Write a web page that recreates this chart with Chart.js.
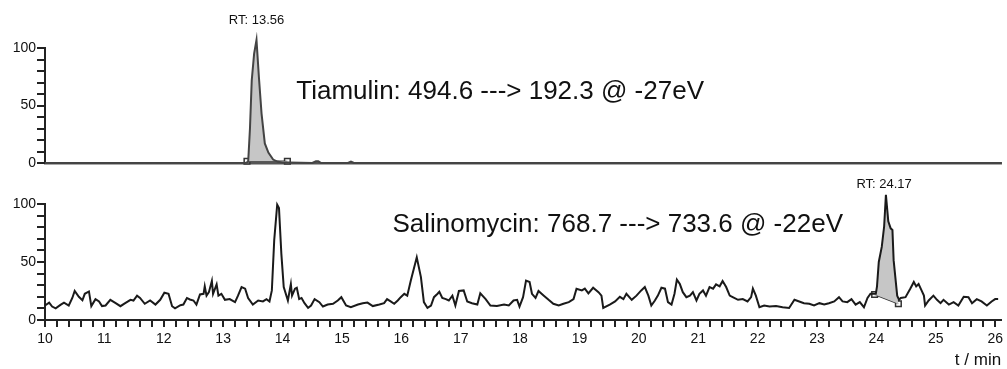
<!DOCTYPE html>
<html>
<head>
<meta charset="utf-8">
<script src="https://cdn.jsdelivr.net/npm/chart.js@4/dist/chart.umd.min.js"></script>
<style>
  body { margin: 0; background: #fff; }
  #topBox { position: absolute; left: 0; top: 0; width: 1007px; height: 175px; }
  #botBox { position: absolute; left: 0; top: 175px; width: 1007px; height: 194px; }
</style>
</head>
<body>
<div id="topBox"><canvas id="topChart"></canvas></div>
<div id="botBox"><canvas id="botChart"></canvas></div>
<script>
// Tiamulin trace (top panel), time in min, relative abundance in %
let tiaTime = [10, 13.38, 13.42, 13.45, 13.48, 13.52, 13.56, 13.60, 13.645, 13.70, 13.76, 13.84, 13.92, 14.0, 14.1,
               14.5, 14.56, 14.6, 14.65, 15.1, 15.15, 15.2, 26.1];
let tiaVals = [0, 0.3, 1, 30, 72, 95, 107, 75, 43, 17, 9, 3, 1, 0.5, 0.5,
               0, 1.5, 1.5, 0, 0, 1.2, 0, 0];
// integration start/end markers
let tiaMarkTime = [13.40, 14.08];
let tiaMarkVals = [1.5, 1.5];

// Salinomycin trace (bottom panel)
let salTime = [10.00, 10.07, 10.12, 10.18, 10.26, 10.32, 10.40, 10.46, 10.50, 10.57, 10.63, 10.67, 10.74, 10.78, 10.85,
  10.91, 10.96, 11.02, 11.10, 11.19, 11.27, 11.35, 11.44, 11.49, 11.55, 11.60, 11.68, 11.77, 11.86, 11.94,
  12.01, 12.08, 12.14, 12.19, 12.28, 12.33, 12.39, 12.44, 12.50, 12.55, 12.61, 12.67, 12.69, 12.72, 12.76,
  12.81, 12.83, 12.89, 12.92, 12.97, 13.03, 13.11, 13.20, 13.25, 13.31, 13.37, 13.42, 13.50, 13.59, 13.67,
  13.73, 13.78, 13.82, 13.86, 13.91, 13.94, 13.98, 14.02, 14.09, 14.14, 14.16, 14.21, 14.24, 14.28, 14.32,
  14.37, 14.43, 14.48, 14.54, 14.62, 14.68, 14.76, 14.85, 14.93, 14.99, 15.07, 15.15, 15.27, 15.35, 15.43,
  15.52, 15.63, 15.71, 15.76, 15.82, 15.88, 15.94, 15.99, 16.05, 16.10, 16.16, 16.26, 16.33, 16.38, 16.44,
  16.50, 16.55, 16.61, 16.64, 16.69, 16.75, 16.80, 16.86, 16.91, 16.97, 17.05, 17.11, 17.19, 17.28, 17.33,
  17.42, 17.50, 17.61, 17.73, 17.81, 17.89, 17.95, 17.99, 18.05, 18.10, 18.16, 18.20, 18.26, 18.31, 18.40,
  18.48, 18.56, 18.65, 18.73, 18.82, 18.90, 18.95, 19.04, 19.09, 19.15, 19.23, 19.32, 19.37, 19.40, 19.51,
  19.60, 19.68, 19.74, 19.79, 19.88, 19.96, 20.04, 20.10, 20.16, 20.21, 20.27, 20.32, 20.38, 20.44, 20.49,
  20.55, 20.60, 20.64, 20.69, 20.74, 20.80, 20.86, 20.91, 20.97, 21.02, 21.08, 21.13, 21.19, 21.25, 21.30,
  21.36, 21.41, 21.47, 21.53, 21.58, 21.67, 21.75, 21.83, 21.89, 21.92, 21.97, 22.03, 22.11, 22.20, 22.31,
  22.42, 22.53, 22.62, 22.70, 22.78, 22.87, 22.95, 23.04, 23.12, 23.20, 23.29, 23.37, 23.43, 23.51, 23.58,
  23.65, 23.72, 23.79, 23.85, 23.90, 23.99, 24.01, 24.04, 24.09, 24.13, 24.16, 24.20, 24.24, 24.27, 24.29,
  24.35, 24.38, 24.41, 24.49, 24.57, 24.63, 24.67, 24.71, 24.76, 24.80, 24.82, 24.88, 24.96, 25.02, 25.08,
  25.13, 25.22, 25.30, 25.38, 25.47, 25.55, 25.61, 25.69, 25.77, 25.86, 25.94, 26.00, 26.05];
let salVals = [12.5, 15, 11.6, 10, 13, 15, 12.5, 19, 25, 20, 17, 22.6, 24.6, 12, 18,
  16, 12, 12.5, 17.4, 14.5, 11.9, 14.5, 17.4, 16.8, 21, 19, 14, 16.8, 13.3, 17.4,
  23.5, 22.6, 11.9, 10, 12.8, 13.3, 19, 17.7, 16.8, 13.3, 22, 22.6, 29, 21, 24,
  33.6, 22.6, 30.7, 21, 22.6, 17.4, 18, 15.4, 21, 28.4, 27, 19, 13.3, 16.8, 16,
  18, 16, 25.5, 69, 99.4, 96.5, 57, 28.4, 16.8, 31, 21, 27, 27.8, 18, 19,
  14.5, 10.4, 12.5, 18, 15.4, 11.6, 13.3, 14, 16.8, 19.7, 12.5, 11, 13.3, 14.5, 15,
  12, 13.3, 14.5, 18, 16, 14, 16.8, 19.7, 22.6, 21, 34, 54, 37, 15.4, 10.4,
  12.5, 19.7, 22.6, 24.3, 19, 18, 16.8, 21, 12.5, 25, 25.5, 16, 14.5, 13.3, 23,
  18, 12.5, 12, 13.3, 12.5, 16.8, 17.4, 11.6, 19.7, 34, 32.8, 22.6, 19, 25, 21,
  17.4, 14, 12.5, 14, 15.4, 18, 27, 25.5, 27, 23, 27.8, 24, 21, 10.4, 13.3,
  16, 20, 18, 22.6, 17.4, 21, 25.5, 28.4, 21, 12.5, 16.8, 21, 27.8, 27, 15.4,
  13.3, 22.6, 34.8, 31, 24, 19.7, 21, 24, 16.8, 22.6, 25.5, 21, 28.4, 27, 30.7,
  29, 33.6, 28.4, 21, 19.7, 17.4, 18, 16, 19.7, 27, 21, 11, 12.5, 11.6, 12,
  11, 10.4, 17.4, 16, 14.5, 14, 12.5, 14.5, 13.3, 14.5, 16, 19.7, 16, 15.4, 18,
  13.3, 15.4, 11, 19, 22.6, 22.6, 29, 50, 63, 80.6, 108, 85, 79, 77.7, 51.6,
  21, 17.4, 19, 19.7, 27, 32.8, 29, 31, 25.5, 21, 12.5, 16.8, 21, 17.4, 14.5,
  17.4, 13.3, 15.4, 12.5, 20, 19.7, 14.5, 18, 16, 12.5, 16, 18, 18];
let salMarkTime = [23.97, 24.37];
let salMarkVals = [22, 14];

// y tick labels shown, x range
let yLabels = [0, 50, 100];
let xMin = 10, xMax = 26.1;

function toPoints(xs, ys) {
    return xs.map(function(x, i) { return {x: x, y: ys[i]}; });
}

// fill polygon = markers + trace points between them
function peakPoints(xs, ys, mx, my) {
    let pts = [{x: mx[0], y: my[0]}];
    xs.forEach(function(x, i) {
        if (x > mx[0] && x < mx[1]) pts.push({x: x, y: ys[i]});
    });
    pts.push({x: mx[1], y: my[1]});
    return pts;
}

// draws free text placed in data units
const panelText = {
    id: 'panelText',
    afterDatasetsDraw(chart, args, opts) {
        const ctx = chart.ctx;
        const xs = chart.scales.x, ys = chart.scales.y;
        ctx.save();
        ctx.fillStyle = '#111';
        (opts.items || []).forEach(function(t) {
            ctx.font = t.size + 'px "Liberation Sans", Arial, sans-serif';
            ctx.textAlign = t.align;
            ctx.textBaseline = 'middle';
            ctx.fillText(t.text, xs.getPixelForValue(t.x), ys.getPixelForValue(t.y));
        });
        ctx.restore();
    }
};

const FONT = '"Liberation Sans", Arial, sans-serif';

function yScale() {
    return {
        min: 0, max: 100,
        afterFit: function(s) { s.width = 45; },
        border: { display: true, color: '#222', width: 2 },
        grid: { drawOnChartArea: false, drawTicks: true, tickLength: 8, color: '#222', lineWidth: 2 },
        ticks: {
            stepSize: 10, padding: 1, color: '#111', autoSkip: false,
            font: { family: FONT, size: 14 },
            callback: function(v) {
                let r = Math.round(v);
                return yLabels.indexOf(r) >= 0 ? String(r) : '';
            }
        }
    };
}

function datasets(xs, ys, mx, my, lineColor) {
    return [
        {
            data: toPoints(xs, ys), borderColor: lineColor, borderWidth: 2,
            pointRadius: 0, fill: false, clip: false, tension: 0
        },
        {
            data: peakPoints(xs, ys, mx, my), borderWidth: 0, pointRadius: 0,
            backgroundColor: '#c6c6c6', fill: { target: 2 }, clip: false, tension: 0
        },
        {
            data: toPoints(mx, my), borderColor: '#333', borderWidth: 1.5,
            pointStyle: 'rect', pointRadius: 4, pointBorderWidth: 1.5,
            pointBorderColor: '#333', pointBackgroundColor: 'rgba(255,255,255,0.6)',
            fill: false, clip: false
        }
    ];
}

// top panel: Tiamulin
new Chart(document.getElementById('topChart'), {
    type: 'line',
    data: { datasets: datasets(tiaTime, tiaVals, tiaMarkTime, tiaMarkVals, '#444') },
    options: {
        responsive: true, maintainAspectRatio: false, animation: false,
        layout: { padding: { top: 48, right: 1, bottom: 12, left: 0 } },
        plugins: {
            legend: { display: false }, tooltip: { enabled: false },
            panelText: { items: [
                { text: 'RT: 13.56', x: 13.56, y: 124, size: 13, align: 'center' },
                { text: 'Tiamulin: 494.6 ---> 192.3 @ -27eV', x: 14.23, y: 62, size: 26, align: 'left' }
            ] }
        },
        scales: {
            x: {
                type: 'linear', min: xMin, max: xMax,
                afterFit: function(s) { s.height = 0; },
                border: { display: true, color: '#555', width: 2.5 },
                grid: { display: false },
                ticks: { display: false }
            },
            y: yScale()
        }
    },
    plugins: [panelText]
});

// bottom panel: Salinomycin
new Chart(document.getElementById('botChart'), {
    type: 'line',
    data: { datasets: datasets(salTime, salVals, salMarkTime, salMarkVals, '#1a1a1a') },
    options: {
        responsive: true, maintainAspectRatio: false, animation: false,
        layout: { padding: { top: 29, right: 1, bottom: 0, left: 0 } },
        plugins: {
            legend: { display: false }, tooltip: { enabled: false },
            panelText: { items: [
                { text: 'RT: 24.17', x: 24.13, y: 117, size: 13, align: 'center' },
                { text: 'Salinomycin: 768.7 ---> 733.6 @ -22eV', x: 15.85, y: 82, size: 26, align: 'left' }
            ] }
        },
        scales: {
            x: {
                type: 'linear', min: xMin, max: xMax,
                afterFit: function(s) { s.height = 49; },
                border: { display: true, color: '#222', width: 2 },
                grid: { drawOnChartArea: false, drawTicks: true, tickLength: 7, color: '#222', lineWidth: 2 },
                ticks: {
                    stepSize: 0.2, autoSkip: false, includeBounds: false, maxRotation: 0,
                    padding: 4, color: '#111', font: { family: FONT, size: 14 },
                    callback: function(v) {
                        return Math.abs(v - Math.round(v)) < 1e-6 ? String(Math.round(v)) : '';
                    }
                },
                title: {
                    display: true, text: 't / min', align: 'end', color: '#111',
                    padding: { top: 0, bottom: 0 },
                    font: { family: FONT, size: 17, lineHeight: 1 }
                }
            },
            y: yScale()
        }
    },
    plugins: [panelText]
});
</script>
</body>
</html>
